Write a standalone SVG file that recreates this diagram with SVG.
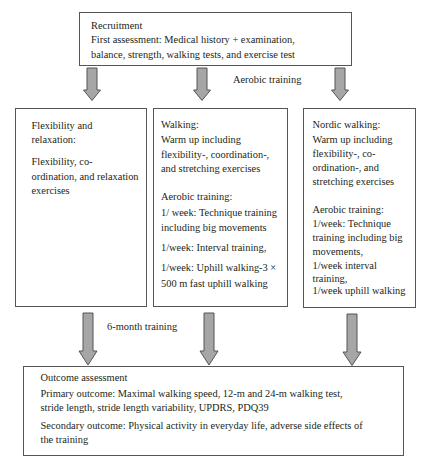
<svg xmlns="http://www.w3.org/2000/svg" width="431" height="464" viewBox="0 0 431 464">
<style>
.box{fill:#fff;stroke:#555;stroke-width:1}
.t{font-family:"Liberation Serif","Times New Roman",serif;font-size:10.4px;fill:#231f20}
.arr{fill:#a6a6a6;stroke:#555;stroke-width:1;stroke-linejoin:miter}
</style>
<rect width="431" height="464" fill="#fff"/>
<g id="connectors">
<path class="arr" d="M87,68 H97 V90 H100.5 L92,100.5 L83.5,90 H87 Z"/>
<path class="arr" d="M197,68 H207 V90 H210.5 L202,100.5 L193.5,90 H197 Z"/>
<path class="arr" d="M335,68 H345 V90 H348.5 L340,100.5 L331.5,90 H335 Z"/>
<path class="arr" d="M83,313 H93 V351 H97 L88,365 L79,351 H83 Z"/>
<path class="arr" d="M204,313 H214 V351 H218 L209,365 L200,351 H204 Z"/>
<path class="arr" d="M347,314 H357 V352 H361 L352,365.5 L343,352 H347 Z"/>
<text class="t" x="233" y="83">Aerobic training</text>
<text class="t" x="107" y="330">6-month training</text>
</g>
<g id="recruitment">
<rect class="box" x="79.5" y="12.5" width="272" height="53"/>
<text class="t" x="91" y="28.5">Recruitment</text>
<text class="t" x="91" y="43">First assessment: Medical history + examination,</text>
<text class="t" x="91" y="57.5">balance, strength, walking tests, and exercise test</text>
</g>
<g id="flexibility">
<rect class="box" x="15.5" y="108.5" width="131" height="198"/>
<text class="t" x="31.5" y="128.5">Flexibility and</text>
<text class="t" x="31.5" y="143">relaxation:</text>
<text class="t" x="31.5" y="165">Flexibility, co-</text>
<text class="t" x="31.5" y="179.5">ordination, and relaxation</text>
<text class="t" x="31.5" y="194">exercises</text>
</g>
<g id="walking">
<rect class="box" x="153.5" y="108.5" width="134" height="198"/>
<text class="t" x="161" y="127.5">Walking:</text>
<text class="t" x="161" y="142.5">Warm up including</text>
<text class="t" x="161" y="157.5">flexibility-, coordination-,</text>
<text class="t" x="161" y="172">and stretching exercises</text>
<text class="t" x="161" y="200">Aerobic training:</text>
<text class="t" x="161" y="216">1/ week: Technique training</text>
<text class="t" x="161" y="230.5">including big movements</text>
<text class="t" x="161" y="251">1/week: Interval training,</text>
<text class="t" x="161" y="271">1/week: Uphill walking-3 ×</text>
<text class="t" x="161" y="286.5">500 m fast uphill walking</text>
</g>
<g id="nordic">
<rect class="box" x="303.5" y="108.5" width="112" height="199"/>
<text class="t" x="312.5" y="128">Nordic walking:</text>
<text class="t" x="312.5" y="142.5">Warm up including</text>
<text class="t" x="312.5" y="156.5">flexibility-, co-</text>
<text class="t" x="312.5" y="170.5">ordination-, and</text>
<text class="t" x="312.5" y="184.5">stretching exercises</text>
<text class="t" x="312.5" y="213">Aerobic training:</text>
<text class="t" x="312.5" y="227">1/week: Technique</text>
<text class="t" x="312.5" y="241">training including big</text>
<text class="t" x="312.5" y="254.5">movements,</text>
<text class="t" x="312.5" y="269">1/week interval</text>
<text class="t" x="312.5" y="281.5">training,</text>
<text class="t" x="312.5" y="294">1/week uphill walking</text>
</g>
<g id="outcome">
<rect class="box" x="23.5" y="366.5" width="380" height="89"/>
<text class="t" x="40.5" y="381">Outcome assessment</text>
<text class="t" x="40.5" y="397">Primary outcome: Maximal walking speed, 12-m and 24-m walking test,</text>
<text class="t" x="40.5" y="411">stride length, stride length variability, UPDRS, PDQ39</text>
<text class="t" x="40.5" y="429">Secondary outcome: Physical activity in everyday life, adverse side effects of</text>
<text class="t" x="40.5" y="443">the training</text>
</g>
</svg>
